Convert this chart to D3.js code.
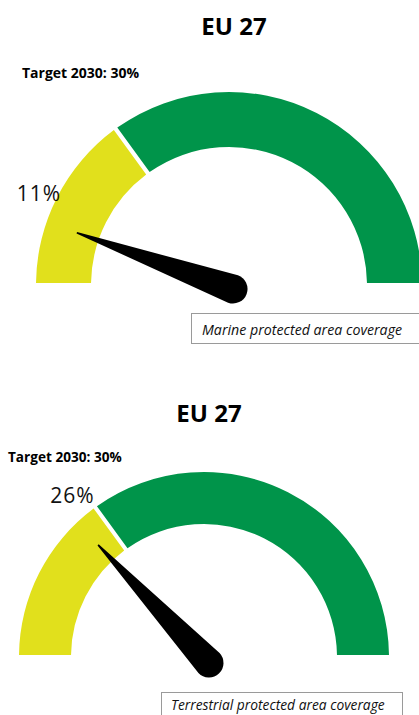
<!DOCTYPE html>
<html>
<head>
<meta charset="utf-8">
<script src="https://cdn.jsdelivr.net/npm/d3@7"></script>
<style>
  html, body { margin: 0; padding: 0; background: #fff; }
  svg { display: block; }
</style>
</head>
<body>
<div id="chart"></div>
<script>
// ---- data ----
const titles = ["EU 27", "EU 27"];
const values = [11, 26];                 // current coverage, %
const valueLabels = ["11%", "26%"];
const targets = [30, 30];                // 2030 target, %
const targetLabels = ["Target 2030: 30%", "Target 2030: 30%"];
const captions = ["Marine protected area coverage", "Terrestrial protected area coverage"];
const gaugeDomain = [0, 100];

// ---- layout (per panel) ----
const layout = [
  { cx: 229, cy: 285, rOuter: 193, rInner: 138, titleY: 35, titleX: 234, targetX: 22, targetY: 78, targetSize: 14,
    box: { x: 191, y: 313, w: 230, h: 30 }, capX: 202, capY: 335, capSize: 14.2, pivot: [4, 4], needle: 166, labR: 211, labOff: 6 },
  { cx: 204, cy: 657, rOuter: 185, rInner: 133, titleY: 422, titleX: 209, targetX: 8, targetY: 462, targetSize: 13.6,
    box: { x: 161, y: 692, w: 241, h: 30 }, capX: 171, capY: 710, capSize: 13.8, pivot: [5, 6], needle: 162, labR: 208, labOff: 4 }
];

const W = 419, H = 715;
const yellow = "#e1e01c", green = "#00944a";

const svg = d3.select("#chart").append("svg").attr("width", W).attr("height", H);

const angle = d3.scaleLinear().domain(gaugeDomain).range([-Math.PI / 2, Math.PI / 2]);
const deg = d3.scaleLinear().domain(gaugeDomain).range([0, 180]);

titles.forEach((t, i) => {
  const L = layout[i];
  const g = svg.append("g");

  g.append("text")
    .attr("x", L.titleX).attr("y", L.titleY)
    .attr("text-anchor", "middle")
    .attr("font-family", "'Open Sans', sans-serif")
    .attr("font-weight", 700).attr("font-size", 24)
    .attr("fill", "#000").text(t);

  g.append("text")
    .attr("x", L.targetX).attr("y", L.targetY)
    .attr("font-family", "'Open Sans', sans-serif")
    .attr("font-weight", 700).attr("font-size", L.targetSize)
    .attr("fill", "#000").text(targetLabels[i]);

  const arc = d3.arc().innerRadius(L.rInner).outerRadius(L.rOuter).padAngle(0.022).padRadius(L.rOuter);
  const segs = [
    { start: gaugeDomain[0], end: targets[i], color: yellow },
    { start: targets[i], end: gaugeDomain[1], color: green }
  ];
  const gg = g.append("g").attr("transform", `translate(${L.cx},${L.cy})`);
  gg.selectAll("path.seg").data(segs).join("path")
    .attr("class", "seg")
    .attr("d", d => arc({ startAngle: angle(d.start), endAngle: angle(d.end) }))
    .attr("fill", d => d.color);

  // needle
  const r = 14.5, len = L.needle;
  const px = L.cx + L.pivot[0], py = L.cy + L.pivot[1];
  g.append("path")
    .attr("transform", `translate(${px},${py}) rotate(${deg(values[i])})`)
    .attr("d", `M ${-len},-0.8 L 0,${-r} A ${r} ${r} 0 1 1 0,${r} L ${-len},0.8 Z`)
    .attr("fill", "#000");

  // value label
  const a = (deg(values[i]) + L.labOff) * Math.PI / 180;
  g.append("text")
    .attr("x", L.cx - L.labR * Math.cos(a))
    .attr("y", L.cy - L.labR * Math.sin(a))
    .attr("dy", "0.35em")
    .attr("text-anchor", "middle")
    .attr("font-family", "'Open Sans', sans-serif")
    .attr("font-size", 21)
    .attr("letter-spacing", 1)
    .attr("fill", "#111").text(valueLabels[i]);

  // caption box
  g.append("rect")
    .attr("x", L.box.x + 0.5).attr("y", L.box.y + 0.5)
    .attr("width", L.box.w).attr("height", L.box.h)
    .attr("fill", "#fff").attr("stroke", "#9a9a9a").attr("stroke-width", 1);
  g.append("text")
    .attr("x", L.capX).attr("y", L.capY)
    .attr("font-family", "'Open Sans', sans-serif")
    .attr("font-style", "italic").attr("font-size", L.capSize)
    .attr("fill", "#111").text(captions[i]);
});
</script>
</body>
</html>
